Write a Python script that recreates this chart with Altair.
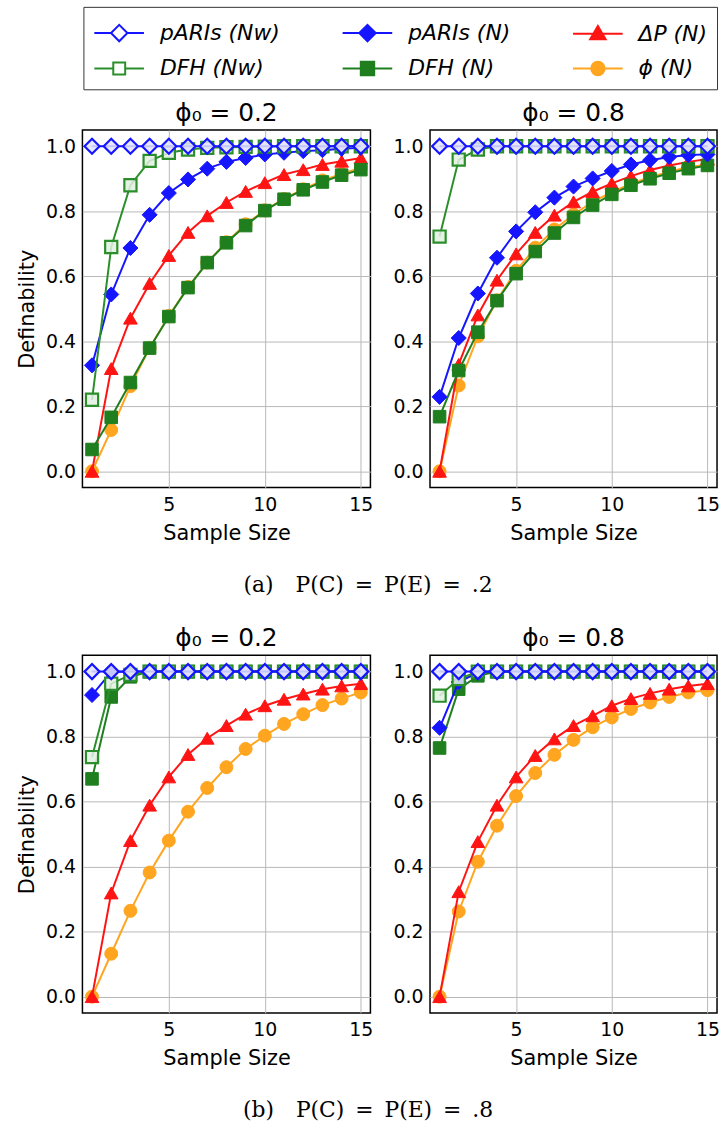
import altair as alt
import pandas as pd

# ---------------- data ----------------
sample_size = [1, 2, 3, 4, 5, 6, 7, 8, 9, 10, 11, 12, 13, 14, 15]

series_names = ["pARIs (Nᴡ)", "pARIs (N)", "ΔP (N)", "DFH (Nᴡ)", "DFH (N)", "ϕ (N)"]
series_colors = ["#1515ff", "#1515ff", "#ff1414", "#2a8f2a", "#1f7f1f", "#ffa51f"]
draw_order = ["ϕ (N)", "ΔP (N)", "DFH (N)", "pARIs (N)", "DFH (Nᴡ)", "pARIs (Nᴡ)"]

# (a) P(C)=P(E)=.2, phi0 = 0.2
a02_parisw = [1.0, 1.0, 1.0, 1.0, 1.0, 1.0, 1.0, 1.0, 1.0, 1.0, 1.0, 1.0, 1.0, 1.0, 1.0]
a02_dfhw = [0.22, 0.69, 0.88, 0.955, 0.98, 0.99, 0.995, 0.997, 0.998, 0.999, 1.0, 1.0, 1.0, 1.0, 1.0]
a02_paris = [0.326, 0.544, 0.687, 0.789, 0.856, 0.898, 0.931, 0.952, 0.964, 0.975, 0.980, 0.985, 0.988, 0.992, 0.995]
a02_dp = [0.0, 0.316, 0.471, 0.578, 0.664, 0.735, 0.786, 0.827, 0.861, 0.888, 0.913, 0.928, 0.944, 0.954, 0.964]
a02_dfh = [0.067, 0.166, 0.273, 0.379, 0.476, 0.565, 0.642, 0.703, 0.756, 0.802, 0.837, 0.866, 0.890, 0.911, 0.928]
a02_phi = [0.0, 0.127, 0.262, 0.380, 0.478, 0.567, 0.642, 0.705, 0.760, 0.803, 0.838, 0.868, 0.895, 0.915, 0.934]

# (a) P(C)=P(E)=.2, phi0 = 0.8
a08_parisw = [1.0, 1.0, 1.0, 1.0, 1.0, 1.0, 1.0, 1.0, 1.0, 1.0, 1.0, 1.0, 1.0, 1.0, 1.0]
a08_dfhw = [0.722, 0.959, 0.99, 1.0, 1.0, 1.0, 1.0, 1.0, 1.0, 1.0, 1.0, 1.0, 1.0, 1.0, 1.0]
a08_paris = [0.229, 0.410, 0.547, 0.657, 0.738, 0.797, 0.842, 0.876, 0.901, 0.924, 0.944, 0.957, 0.967, 0.973, 0.975]
a08_dp = [0.0, 0.329, 0.481, 0.588, 0.669, 0.735, 0.788, 0.829, 0.860, 0.886, 0.908, 0.927, 0.941, 0.952, 0.961]
a08_dfh = [0.168, 0.310, 0.428, 0.525, 0.608, 0.676, 0.733, 0.781, 0.819, 0.852, 0.880, 0.900, 0.917, 0.931, 0.941]
a08_phi = [0.0, 0.264, 0.415, 0.526, 0.617, 0.688, 0.744, 0.790, 0.829, 0.859, 0.885, 0.905, 0.922, 0.936, 0.943]

# (b) P(C)=P(E)=.8, phi0 = 0.2
b02_parisw = [1.0, 1.0, 1.0, 1.0, 1.0, 1.0, 1.0, 1.0, 1.0, 1.0, 1.0, 1.0, 1.0, 1.0, 1.0]
b02_dfhw = [0.737, 0.963, 0.99, 1.0, 1.0, 1.0, 1.0, 1.0, 1.0, 1.0, 1.0, 1.0, 1.0, 1.0, 1.0]
b02_paris = [0.928, 0.999, 1.0, 1.0, 1.0, 1.0, 1.0, 1.0, 1.0, 1.0, 1.0, 1.0, 1.0, 1.0, 1.0]
b02_dp = [0.0, 0.319, 0.480, 0.589, 0.676, 0.745, 0.795, 0.834, 0.869, 0.895, 0.915, 0.931, 0.946, 0.956, 0.963]
b02_dfh = [0.670, 0.922, 0.984, 1.0, 1.0, 1.0, 1.0, 1.0, 1.0, 1.0, 1.0, 1.0, 1.0, 1.0, 1.0]
b02_phi = [0.0, 0.132, 0.264, 0.382, 0.480, 0.569, 0.642, 0.706, 0.762, 0.803, 0.839, 0.869, 0.897, 0.917, 0.936]

# (b) P(C)=P(E)=.8, phi0 = 0.8
b08_parisw = [1.0, 1.0, 1.0, 1.0, 1.0, 1.0, 1.0, 1.0, 1.0, 1.0, 1.0, 1.0, 1.0, 1.0, 1.0]
b08_dfhw = [0.926, 0.977, 1.0, 1.0, 1.0, 1.0, 1.0, 1.0, 1.0, 1.0, 1.0, 1.0, 1.0, 1.0, 1.0]
b08_paris = [0.827, 0.968, 0.997, 1.0, 1.0, 1.0, 1.0, 1.0, 1.0, 1.0, 1.0, 1.0, 1.0, 1.0, 1.0]
b08_dp = [0.0, 0.323, 0.477, 0.589, 0.676, 0.742, 0.793, 0.834, 0.864, 0.895, 0.917, 0.933, 0.946, 0.956, 0.963]
b08_dfh = [0.765, 0.946, 0.987, 1.0, 1.0, 1.0, 1.0, 1.0, 1.0, 1.0, 1.0, 1.0, 1.0, 1.0, 1.0]
b08_phi = [0.0, 0.262, 0.415, 0.526, 0.617, 0.688, 0.744, 0.790, 0.829, 0.859, 0.885, 0.905, 0.922, 0.936, 0.943]

panel_titles = ["ϕ₀ = 0.2", "ϕ₀ = 0.8"]
captions = ["(a)\u2003P(C)\u2002=\u2002P(E)\u2002=\u2002.2", "(b)\u2003P(C)\u2002=\u2002P(E)\u2002=\u2002.8"]
y_ticks = [0.0, 0.2, 0.4, 0.6, 0.8, 1.0]
x_ticks = [5, 10, 15]

# ---------------- styles ----------------
FONT = "DejaVu Sans"
marker_shape = {
    "pARIs (Nᴡ)": "diamond", "pARIs (N)": "diamond", "ΔP (N)": "triangle-up",
    "DFH (Nᴡ)": "square", "DFH (N)": "square", "ϕ (N)": "circle",
}
marker_size = {
    "pARIs (Nᴡ)": 230, "pARIs (N)": 230, "ΔP (N)": 190,
    "DFH (Nᴡ)": 150, "DFH (N)": 160, "ϕ (N)": 170,
}
color_of = dict(zip(series_names, series_colors))
open_fill = {"pARIs (Nᴡ)": "#e4e4fb", "DFH (Nᴡ)": "#e2f0e2"}

# legend glyphs: a line with the marker, drawn in symbol units (box spans -1..1)
legend_paths = [
    "M-1,0H0.12M1.22,0H2.33M0.67,-0.55L1.22,0L0.67,0.55L0.12,0Z",
    "M-1,0H2.33M0.67,-0.55L1.22,0L0.67,0.55L0.12,0Z",
    "M-1,0H2.33M0.67,-0.52L1.19,0.38L0.15,0.38Z",
    "M-1,0H0.27M1.07,0H2.33M0.27,-0.4H1.07V0.4H0.27Z",
    "M-1,0H2.33M0.22,-0.45H1.12V0.45H0.22Z",
    "M-1,0H2.33M1.12,0A0.45,0.45 0 1,1 0.22,0A0.45,0.45 0 1,1 1.12,0Z",
]
legend_fills = ["white", "#1515ff", "#ff1414", "white", "#1f7f1f", "#ffa51f"]


def make_df(parisw, paris, dp, dfhw, dfh, phi):
    rows = []
    for name, vals in zip(series_names, [parisw, paris, dp, dfhw, dfh, phi]):
        for x, v in zip(sample_size, vals):
            rows.append({"x": x, "y": v, "series": name})
    return pd.DataFrame(rows)


def panel(df, title, show_ytitle, width):
    x_enc = alt.X("x:Q", scale=alt.Scale(domain=[0.5, 15.5], nice=False, zero=False),
                  axis=alt.Axis(values=x_ticks, title="Sample Size", labelFlush=False,
                                labelOverlap=False, labelPadding=8, titlePadding=8))
    y_enc = alt.Y("y:Q", scale=alt.Scale(domain=[-0.05, 1.05], nice=False, zero=False),
                  axis=alt.Axis(values=y_ticks, format=".1f",
                                title="Definability" if show_ytitle else None))
    base = alt.Chart(df)
    layers = []
    for s in draw_order:
        sub = base.transform_filter(alt.datum.series == s)
        layers.append(sub.mark_line(color=color_of[s], strokeWidth=2).encode(x=x_enc, y=y_enc))
        if s in open_fill:
            pt = sub.mark_point(shape=marker_shape[s], size=marker_size[s], filled=True,
                                fill=open_fill[s], fillOpacity=0.85, stroke=color_of[s],
                                strokeWidth=2.2, opacity=1)
        else:
            pt = sub.mark_point(shape=marker_shape[s], size=marker_size[s], filled=True,
                                fill=color_of[s], fillOpacity=1, stroke=color_of[s],
                                strokeWidth=1, opacity=1)
        layers.append(pt.encode(x=x_enc, y=y_enc))
    return alt.layer(*layers).properties(
        width=width, height=360,
        title=alt.TitleParams(title, fontSize=25, font=FONT, fontWeight="normal", offset=4),
    )


def row(dfs, caption):
    return alt.hconcat(
        panel(dfs[0], panel_titles[0], True, 290),
        panel(dfs[1], panel_titles[1], False, 289),
        spacing=18,
    ).properties(
        title=alt.TitleParams(caption, orient="bottom", anchor="middle",
                              font="DejaVu Serif", fontSize=22, fontWeight="normal",
                              offset=31)
    )


df_a02 = make_df(a02_parisw, a02_paris, a02_dp, a02_dfhw, a02_dfh, a02_phi)
df_a08 = make_df(a08_parisw, a08_paris, a08_dp, a08_dfhw, a08_dfh, a08_phi)
df_b02 = make_df(b02_parisw, b02_paris, b02_dp, b02_dfhw, b02_dfh, b02_phi)
df_b08 = make_df(b08_parisw, b08_paris, b08_dp, b08_dfhw, b08_dfh, b08_phi)

row_a = row([df_a02, df_a08], captions[0])
row_b = row([df_b02, df_b08], captions[1])

# ---------------- legend ----------------
leg = alt.Legend(
    title=None, orient="none", legendX=1, legendY=-34, columns=3, direction="horizontal",
    symbolSize=900, symbolStrokeWidth=2, labelOffset=35, columnPadding=59, rowPadding=7,
    padding=10, strokeColor="#333333", fillColor="white",
    labelFont=FONT, labelFontSize=22, labelFontStyle="italic", labelColor="black",
    labelLimit=300, symbolOpacity=1,
)
legend_df = pd.DataFrame({"series": series_names})
legend_chart = alt.Chart(legend_df).transform_filter("false").mark_point(
    filled=True, strokeWidth=2, opacity=1
).encode(
    shape=alt.Shape("series:N", scale=alt.Scale(domain=series_names, range=legend_paths), legend=leg),
    stroke=alt.Stroke("series:N", scale=alt.Scale(domain=series_names, range=series_colors), legend=leg),
    fill=alt.Fill("series:N", scale=alt.Scale(domain=series_names, range=legend_fills), legend=leg),
).properties(width=600, height=1, view=alt.ViewBackground(stroke="transparent"))

top = alt.vconcat(legend_chart, row_a, spacing=58)

chart = alt.vconcat(top, row_b, spacing=30).resolve_scale(
    shape="independent", fill="independent", stroke="independent"
).properties(
    padding={"left": 16, "top": 2, "right": 0, "bottom": 2}
).configure_view(stroke="black", strokeWidth=1.5).configure_axis(
    domain=False, ticks=False, grid=True, gridColor="#b8b8b8", gridWidth=1,
    labelFont=FONT, labelFontSize=19, labelColor="black", labelPadding=7,
    titleFont=FONT, titleFontSize=21, titleFontWeight="normal", titleColor="black",
    titlePadding=8,
)

chart.save("out.html", embed_options={"renderer": "svg", "actions": False})
